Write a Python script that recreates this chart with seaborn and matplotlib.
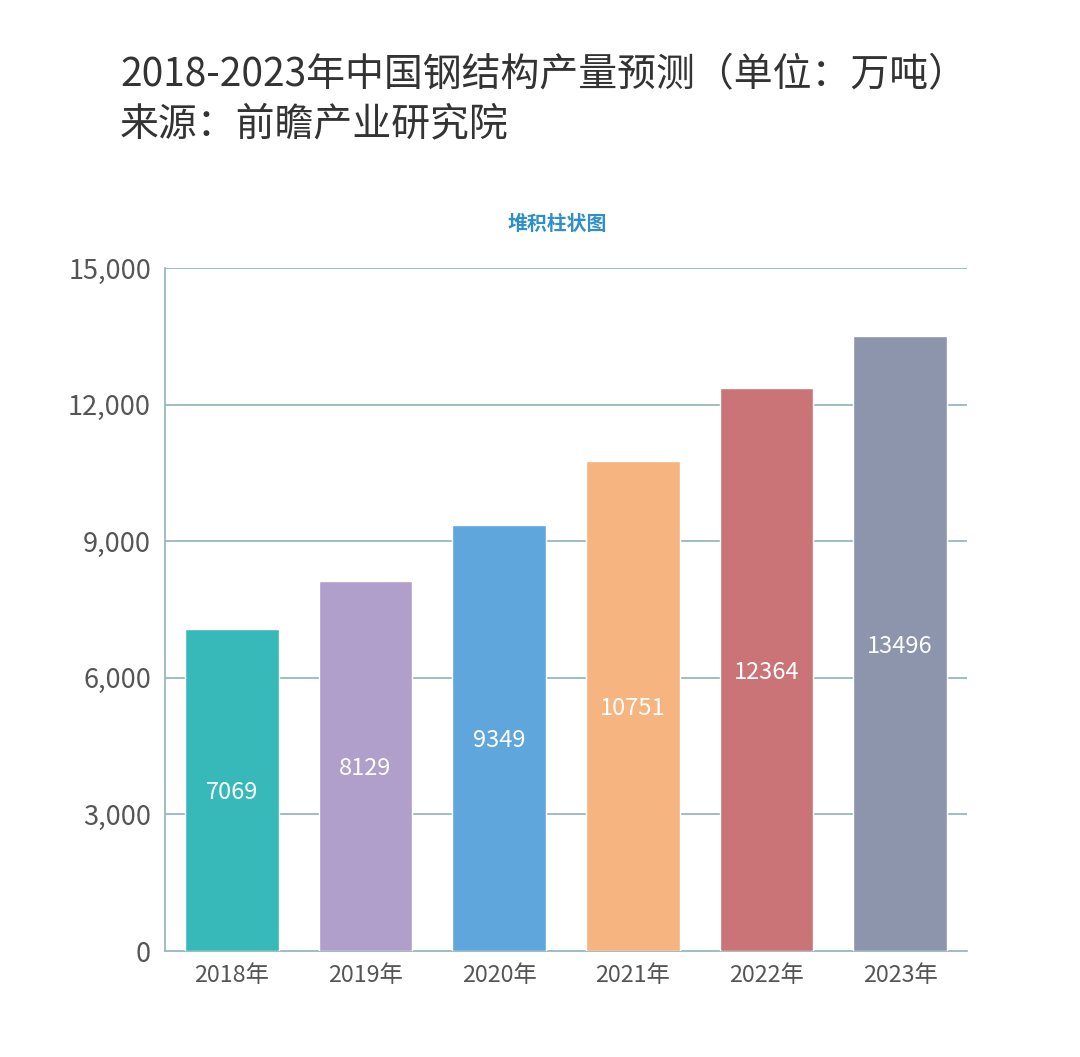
import matplotlib
matplotlib.use("Agg")
import matplotlib.pyplot as plt
import seaborn as sns
import pandas as pd
from matplotlib.ticker import FuncFormatter, FixedLocator

years = ["2018年", "2019年", "2020年", "2021年", "2022年", "2023年"]
values = [7069, 8129, 9349, 10751, 12364, 13496]
colors = ["#37b9b9", "#b09ecb", "#5fa6dc", "#f5b480", "#cb7477", "#8c95ac"]
y_ticks = [0, 3000, 6000, 9000, 12000, 15000]

sns.set_theme(style="white")
plt.rcParams['font.family'] = ['Noto Sans CJK SC', 'DejaVu Sans']

df = pd.DataFrame({"year": years, "value": values})

fig = plt.figure(figsize=(10.8, 10.57), dpi=100)
ax = fig.add_axes([165/1080, 1-951/1057, (967-165)/1080, (951-268)/1057])

sns.barplot(data=df, x="year", y="value", hue="year", palette=colors,
            legend=False, width=0.7, saturation=1, ax=ax, zorder=3)

grid_c = "#8fb3b8"
ax.set_ylim(0, 15000)
ax.set_xlim(-0.5, len(years) - 0.5)
ax.set_yticks(y_ticks)
ax.yaxis.set_major_formatter(FuncFormatter(lambda v, p: f"{int(v):,}"))
for t in y_ticks[1:]:
    ax.axhline(t, color=grid_c, lw=1.2, zorder=1)

for s in ["top", "right"]:
    ax.spines[s].set_visible(False)
for s in ["left", "bottom"]:
    ax.spines[s].set_color(grid_c)
    ax.spines[s].set_linewidth(1.2)

ax.tick_params(axis="y", length=5, color=grid_c, labelsize=19.5, labelcolor="#555555", pad=5)
ax.tick_params(axis="x", which="major", length=0, labelsize=16.8, labelcolor="#555555", pad=9)
ax.xaxis.set_minor_locator(FixedLocator([i - 0.5 for i in range(len(years) + 1)]))
ax.tick_params(axis="x", which="minor", length=5, color=grid_c, width=1.2)
ax.set_xlabel("")
ax.set_ylabel("")

for i, v in enumerate(values):
    ax.text(i, v / 2, str(v), ha="center", va="center_baseline", color="white",
            fontsize=17, zorder=4)

fig.text(120/1080, 1-75/1057, "2018-2023年中国钢结构产量预测（单位：万吨）",
         fontsize=28, color="#333333", ha="left", va="center")
fig.text(120/1080, 1-124/1057, "来源：前瞻产业研究院",
         fontsize=28, color="#333333", ha="left", va="center")
fig.text(557/1080, 1-223/1057, "堆积柱状图", fontsize=14.3, color="#2f8fc8",
         fontweight="bold", ha="center", va="center")

fig.savefig("out.png", dpi=100, facecolor="white")
